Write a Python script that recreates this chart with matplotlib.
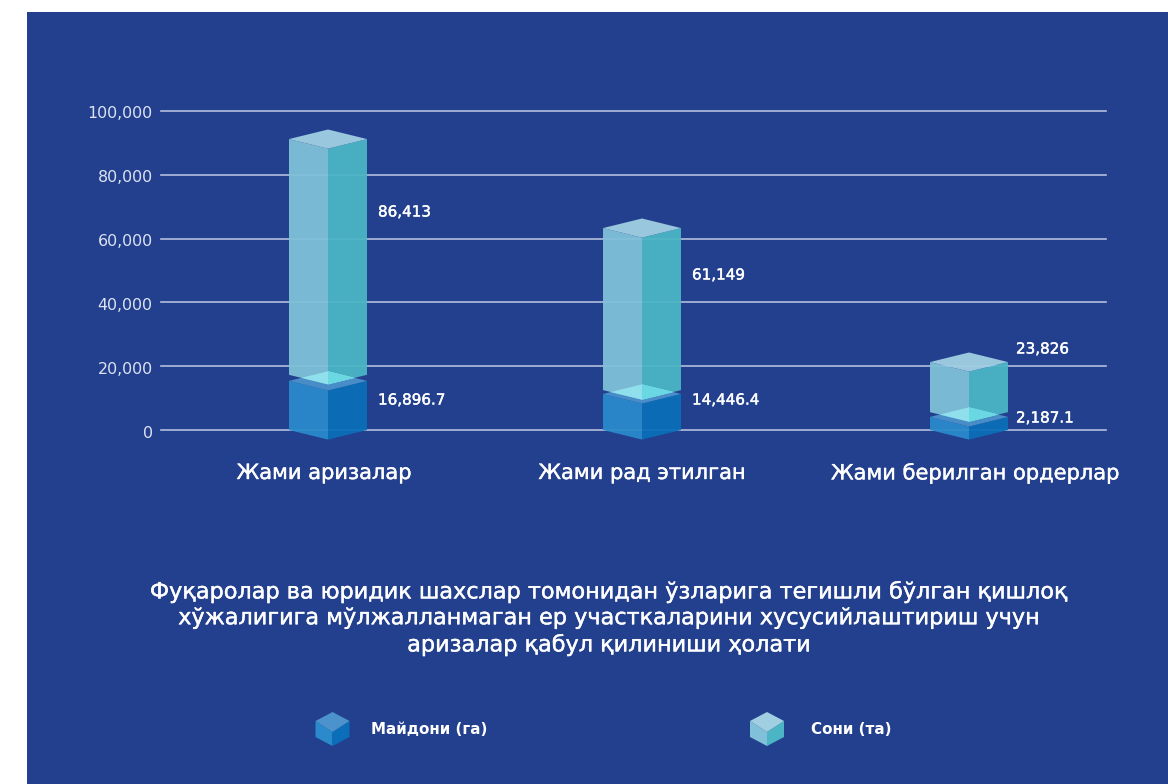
import matplotlib.pyplot as plt
import matplotlib.patheffects as pe
from matplotlib.patches import Polygon, Rectangle
from matplotlib.transforms import ScaledTranslation

categories = ["Жами аризалар", "Жами рад этилган", "Жами берилган ордерлар"]
area_labels = ["16,896.7", "14,446.4", "2,187.1"]
count_labels = ["86,413", "61,149", "23,826"]
y_ticks = [0, 20000, 40000, 60000, 80000, 100000]

# Box heights (the boxes don't follow the printed labels exactly)
area_tops = [15400, 11300, 4100]
count_bases = [17300, 12500, 5600]
count_tops = [91200, 63300, 21300]

title_lines = [
    "Фуқаролар ва юридик шахслар томонидан ўзларига тегишли бўлган қишлоқ",
    "хўжалигига мўлжалланмаган ер участкаларини хусусийлаштириш учун",
    "аризалар қабул қилиниши ҳолати",
]
legend_names = ["Майдони (га)", "Сони (та)"]

W, H = 1168, 784
BG = "#23408E"
BLUE = ("#2A8ACB", "#0A6FB8", "#4C92CC")
LIGHT = ("#80C0D8", "#4BB5C6", "#A0CFE2")
OVERLAP = "#8FE0EC"

bar_x = [328, 642, 969]
half_w = 39
depth = 3000
thick = [pe.withStroke(linewidth=0.3, foreground="white")]

plt.rcParams['font.family'] = ['DejaVu Sans']

fig = plt.figure(figsize=(W / 100, H / 100), dpi=100, facecolor="white")
fig.add_artist(Rectangle((27 / W, 0), 1 - 27 / W, 1 - 12 / H, transform=fig.transFigure,
                         facecolor=BG, edgecolor="none", zorder=-1))

ax = fig.add_axes([161 / W, 1 - 430 / H, 945 / W, 319 / H])
ax.patch.set_alpha(0)
ax.set_xlim(161, 1106)
ax.set_ylim(0, 100000)
for s in ax.spines.values():
    s.set_visible(False)
ax.set_xticks([])
ax.set_yticks(y_ticks)
ax.set_yticklabels([f"{t:,}" for t in y_ticks])
ax.tick_params(axis='y', length=0, pad=6, labelsize=11.4, labelcolor="#DDE3F2")
ax.grid(axis='y', color="#B4BFDD", linewidth=1.2, clip_on=False)
ax.set_axisbelow(True)

# tick labels sit a little under their lines in the reference
for lab in ax.get_yticklabels():
    lab.set_transform(lab.get_transform() + ScaledTranslation(0, -1.5 / 100, fig.dpi_scale_trans))


def box(x, bottom, top, colors, alpha, z):
    # left face, right face, then the top face of one box
    left = [(x - half_w, bottom), (x, bottom - depth), (x, top - depth), (x - half_w, top)]
    right = [(x + half_w, bottom), (x, bottom - depth), (x, top - depth), (x + half_w, top)]
    lid = [(x - half_w, top), (x, top + depth), (x + half_w, top), (x, top - depth)]
    for pts, c in zip((left, right, lid), colors):
        ax.add_patch(Polygon(pts, closed=True, facecolor=c, edgecolor="none",
                             alpha=alpha, clip_on=False, zorder=z))


for i, x in enumerate(bar_x):
    box(x, 0, area_tops[i], BLUE, 0.95, 3)
    box(x, count_bases[i], count_tops[i], LIGHT, 0.95, 4)

    # bright patch where the upper box sits over the lid of the lower one
    gap = count_bases[i] - area_tops[i]
    u = half_w * (1 - gap / (2 * depth))
    mid = (count_bases[i] + area_tops[i]) / 2
    ax.add_patch(Polygon([(x - u, mid), (x, area_tops[i] + depth), (x + u, mid),
                          (x, count_bases[i] - depth)], closed=True, facecolor=OVERLAP,
                         edgecolor="none", clip_on=False, zorder=5))
    ax.add_patch(Polygon([(x, area_tops[i] + depth), (x + u, mid), (x, count_bases[i] - depth)],
                         closed=True, facecolor="#6AD8E3", edgecolor="none", clip_on=False, zorder=5))

# Everything else is placed in pixel coordinates on a full-figure overlay
over = fig.add_axes([0, 0, 1, 1])
over.patch.set_alpha(0)
over.set_xlim(0, W)
over.set_ylim(H, 0)
over.axis("off")

count_label_y = [212, 275, 349]
area_label_y = [400, 400, 418]
label_dx = [50, 50, 47]
for i, x in enumerate(bar_x):
    over.text(x + label_dx[i], count_label_y[i], count_labels[i], color="white", fontsize=10.9,
              va="center", path_effects=thick)
    over.text(x + label_dx[i], area_label_y[i], area_labels[i], color="white", fontsize=10.9,
              va="center", path_effects=thick)

category_x = [324, 642, 975]
for cx, name in zip(category_x, categories):
    over.text(cx, 473, name, color="white", fontsize=15.1, ha="center", va="center",
              path_effects=thick)

for y, line in zip([592, 618, 645], title_lines):
    over.text(609, y, line, color="white", fontsize=16.1, ha="center", va="center",
              path_effects=thick)


def legend_cube(cx, colors):
    top = [(cx - 17, 721), (cx, 712), (cx + 17, 721), (cx, 732)]
    left = [(cx - 17, 721), (cx, 732), (cx, 746), (cx - 17, 737)]
    right = [(cx + 17, 721), (cx, 732), (cx, 746), (cx + 17, 737)]
    for pts, c in zip((left, right, top), colors):
        over.add_patch(Polygon(pts, closed=True, facecolor=c, edgecolor="none"))


legend_cube(332.5, BLUE)
legend_cube(767, LIGHT)
over.text(371, 729, legend_names[0], color="white", fontsize=10.9, fontweight="bold", va="center")
over.text(811, 729, legend_names[1], color="white", fontsize=10.9, fontweight="bold", va="center")

fig.savefig("out.png", dpi=100)
